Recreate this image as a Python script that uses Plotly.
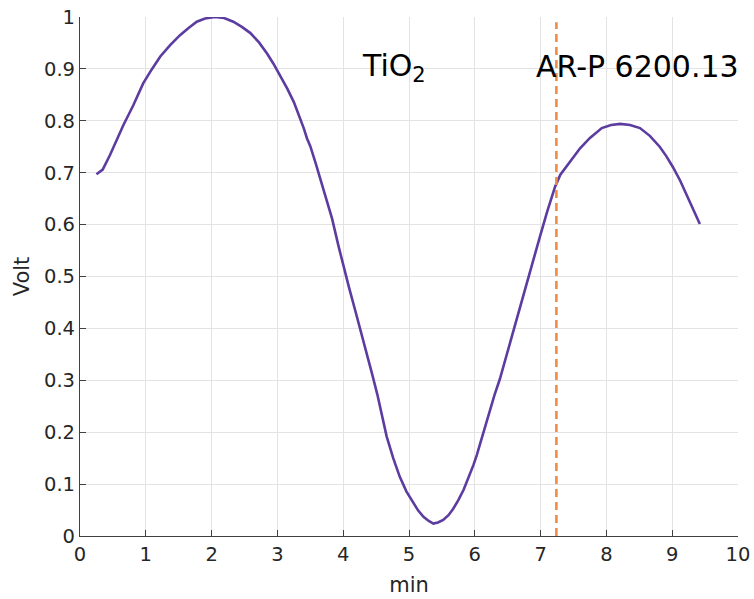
import plotly.graph_objects as go

time_min = [0.25, 0.345, 0.456, 0.56, 0.66, 0.81, 0.96, 1.09, 1.22, 1.37, 1.52, 1.65, 1.775, 1.9, 2.05,
            2.19, 2.33, 2.46, 2.59, 2.72, 2.84, 2.94, 3.04, 3.15, 3.25, 3.33, 3.40, 3.45, 3.50, 3.58,
            3.65, 3.75, 3.83, 3.93, 4.00, 4.09, 4.18, 4.27, 4.36, 4.44, 4.52, 4.59, 4.66, 4.76, 4.86,
            4.96, 5.07, 5.14, 5.22, 5.30, 5.37, 5.44, 5.52, 5.60, 5.67, 5.75, 5.83, 5.90, 5.98, 6.03,
            6.10, 6.18, 6.23, 6.30, 6.38, 6.47, 6.56, 6.67, 6.79, 6.89, 6.99, 7.10, 7.22, 7.30, 7.45,
            7.60, 7.75, 7.93, 8.07, 8.21, 8.36, 8.51, 8.66, 8.81, 8.91, 9.01, 9.12, 9.22, 9.32, 9.42]
volt = [0.697, 0.706, 0.734, 0.763, 0.792, 0.830, 0.872, 0.899, 0.924, 0.946, 0.965, 0.979, 0.991, 0.997, 1.000,
        0.998, 0.991, 0.981, 0.969, 0.951, 0.930, 0.910, 0.888, 0.862, 0.836, 0.810, 0.786, 0.766, 0.751, 0.719,
        0.689, 0.650, 0.612, 0.558, 0.521, 0.478, 0.436, 0.394, 0.352, 0.312, 0.272, 0.232, 0.192, 0.150, 0.114,
        0.086, 0.063, 0.049, 0.037, 0.029, 0.024, 0.026, 0.031, 0.040, 0.052, 0.069, 0.089, 0.111, 0.137, 0.156,
        0.186, 0.220, 0.243, 0.272, 0.302, 0.343, 0.384, 0.435, 0.487, 0.532, 0.577, 0.625, 0.673, 0.696, 0.721,
        0.747, 0.767, 0.786, 0.792, 0.794, 0.792, 0.786, 0.771, 0.750, 0.732, 0.711, 0.685, 0.657, 0.628, 0.601]

interface_x = 7.24
interface_top = 0.99
labels = [("TiO<sub>2</sub>", 4.77, 0.903), ("AR-P 6200.13", 8.47, 0.905)]

x_ticks = list(range(0, 11))
y_ticks = [0, 0.1, 0.2, 0.3, 0.4, 0.5, 0.6, 0.7, 0.8, 0.9, 1.0]
y_tick_text = ["0", "0.1", "0.2", "0.3", "0.4", "0.5", "0.6", "0.7", "0.8", "0.9", "1"]

fig = go.Figure()
fig.add_trace(go.Scatter(x=time_min, y=volt, mode="lines",
                         line=dict(color="#5C3CA0", width=2.6), showlegend=False))
fig.add_trace(go.Scatter(x=[interface_x, interface_x], y=[0, interface_top], mode="lines",
                         line=dict(color="#F08C46", width=2.6, dash="8px,5px"), showlegend=False))

for txt, lx, ly in labels:
    fig.add_annotation(x=lx, y=ly, text=txt, showarrow=False, xref="x", yref="y",
                       font=dict(family="DejaVu Sans", size=30, color="#000000"))

axis_common = dict(showgrid=True, gridcolor="#E3E3E3", gridwidth=1, zeroline=False,
                   showline=True, linecolor="#404040", linewidth=1.2,
                   ticks="inside", ticklen=6, tickcolor="#404040", automargin=False,
                   tickfont=dict(family="DejaVu Sans", size=19.5, color="#262626"),
                   title_font=dict(family="DejaVu Sans", size=21, color="#262626"))

fig.update_xaxes(range=[0, 10], tickvals=x_ticks, title_text="min", title_standoff=12, **axis_common)
fig.update_yaxes(range=[0, 1], tickvals=y_ticks, ticktext=y_tick_text, title_text="Volt",
                 title_standoff=8, **axis_common)

fig.update_layout(width=754, height=599, margin=dict(l=80, r=16, t=17, b=63),
                  plot_bgcolor="white", paper_bgcolor="white")

fig.write_html("out.html", config={"displayModeBar": False},
               post_script="document.body.style.margin='0';document.body.style.overflow='hidden';")
